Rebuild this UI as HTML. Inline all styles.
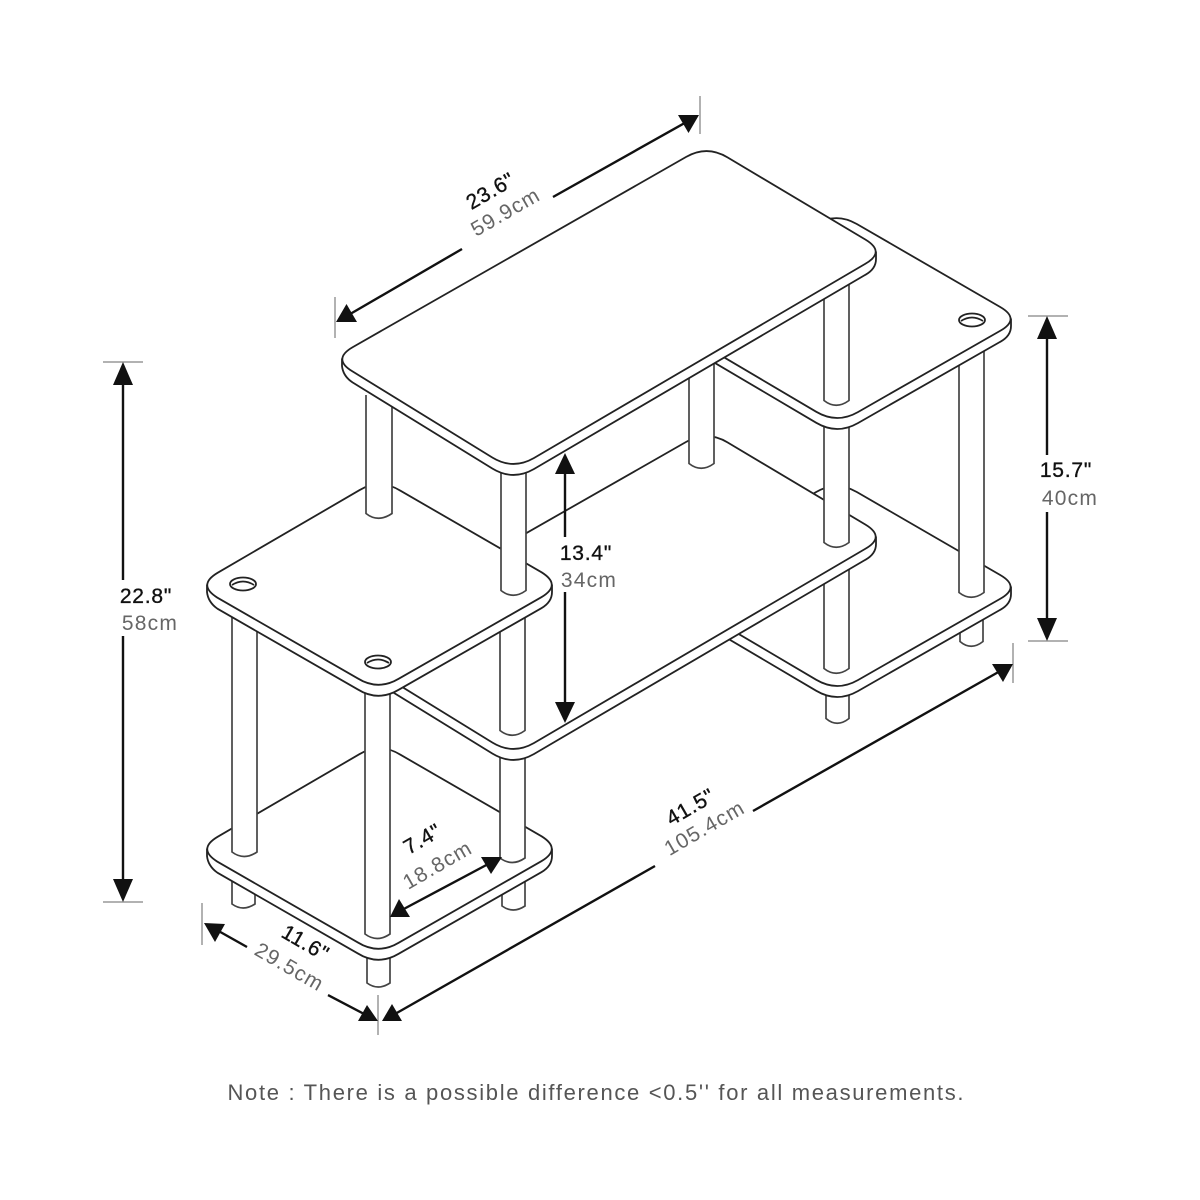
<!DOCTYPE html>
<html>
<head>
<meta charset="utf-8">
<style>
html,body{margin:0;padding:0;background:#fff;width:1200px;height:1200px;overflow:hidden}
svg{display:block}
text{font-family:"Liberation Sans",sans-serif;font-size:21px;text-anchor:middle}
.in{fill:#111;stroke:#111;stroke-width:.35;letter-spacing:.8px}
.cm{fill:#666;letter-spacing:1.2px}
.p path,.p ellipse{fill:#fff;stroke:#222;stroke-width:1.8;stroke-linejoin:round}
.c path{fill:#fff;stroke:#444;stroke-width:1.7}
.d line{stroke:#111;stroke-width:2.4}
.d .t{stroke:#999;stroke-width:1.5}
.d polygon{fill:#111}
</style>
</head>
<body>
<svg width="1200" height="1200" viewBox="0 0 1200 1200" xmlns="http://www.w3.org/2000/svg">
<defs>
<g id="topb" class="p">
<path d="M342 359V366Q343 376 352.5 382.4L492.5 468.6Q513 481 533.8 469.1L865.2 274.9Q876 269 876 259V252Z"/>
<path d="M352.8 347.1L686.2 156.9Q707 145 727.5 157.4L865.5 239.6Q886 252 865.2 263.9L533.8 458.1Q513 470 492.5 457.6L352.5 371.4Q332 359 352.8 347.1Z"/>
</g>
<g id="lefts" class="p">
<path d="M207 585V592Q208 602 217.4 608.7L357.6 689.3Q378 702 398.6 689.8L541.4 608.2Q552 602 552 592V585Z"/>
<path d="M217.6 572.8L359.4 490.2Q380 478 400.4 490.7L541.6 572.3Q562 585 541.4 597.2L398.6 678.8Q378 691 357.6 678.3L217.4 597.7Q197 585 217.6 572.8Z"/>
</g>
<g id="rights" class="p">
<path d="M1011 319V326Q1011 336 1000.1 341.9L857.9 423.1Q837 435 816.3 422.8L679.7 342.2Q669 336 669 326V319Z"/>
<path d="M679.5 306.6L815.5 224.4Q836 212 856.8 224L1000.2 307Q1021 319 1000.1 330.9L857.9 412.1Q837 424 816.3 411.8L679.7 331.2Q659 319 679.5 306.6Z"/>
</g>
</defs>

<!-- back right feet and lower right shelf -->
<g class="c">
<path d="M960 615V641.5Q971 651 983 641.5V615"/>
<path d="M826 688V718.5Q837 728 849 718.5V688"/>
</g>
<use href="#rights" y="268"/>
<g class="c">
<path d="M959 350V592.5Q971 602 984 592.5V350"/>
<path d="M824 560V668.5Q836 678 849 668.5V560"/>
</g>

<!-- lower left shelf, its feet and columns -->
<g class="c">
<path d="M232 880V904Q243 912 255 904V880"/>
<path d="M502 880V906Q513 914 525 906V880"/>
<path d="M367 950V983Q378 991 390 983V950"/>
</g>
<use href="#lefts" y="264"/>
<g class="c">
<path d="M232 610V852Q244 861 257 852V610"/>
<path d="M500 740V858Q512 867 525 858V740"/>
<path d="M365 680V934Q377 943 390 934V680"/>
</g>

<!-- middle board -->
<use href="#topb" y="285"/>
<g class="c">
<path d="M824 415V542.5Q836 552 849 542.5V415"/>
<path d="M500 590V730.5Q512 740 525 730.5V590"/>
</g>

<!-- right top shelf -->
<use href="#rights"/>
<g class="p"><ellipse cx="972" cy="320" rx="13" ry="6.5"/><path d="M961 321Q972 314 983 321" style="fill:none"/></g>
<g class="c">
<path d="M824 285V400.5Q836 410 849 400.5V285"/>
<path d="M689 350V463.5Q701 473 714 463.5V350"/>
</g>

<!-- left shelf -->
<use href="#lefts"/>
<g class="p">
<ellipse cx="243" cy="584" rx="13" ry="6.5"/><path d="M232 585Q243 578 254 585" style="fill:none"/>
<ellipse cx="378" cy="662" rx="13" ry="6.5"/><path d="M367 663Q378 656 389 663" style="fill:none"/>
</g>
<g class="c">
<path d="M366 395V513.5Q378 523 392 513.5V395"/>
<path d="M501 470V590.5Q513 600 526 590.5V470"/>
</g>

<!-- top board -->
<use href="#topb"/>

<!-- dimensions -->
<g class="d">
<line class="t" x1="103" y1="362" x2="143" y2="362"/>
<line class="t" x1="103" y1="902" x2="143" y2="902"/>
<line x1="123" y1="375" x2="123" y2="580"/>
<line x1="123" y1="636" x2="123" y2="890"/>
<polygon points="123,362 113,385 133,385"/>
<polygon points="123,902 113,879 133,879"/>

<line class="t" x1="1028" y1="316" x2="1068" y2="316"/>
<line class="t" x1="1028" y1="641" x2="1068" y2="641"/>
<line x1="1047" y1="328" x2="1047" y2="455"/>
<line x1="1047" y1="512" x2="1047" y2="630"/>
<polygon points="1047,316 1037,339 1057,339"/>
<polygon points="1047,641 1037,618 1057,618"/>

<line x1="565" y1="465" x2="565" y2="537"/>
<line x1="565" y1="592" x2="565" y2="710"/>
<polygon points="565,453 555,474 575,474"/>
<polygon points="565,723 555,702 575,702"/>

<line class="t" x1="335" y1="297" x2="335" y2="338"/>
<line class="t" x1="700" y1="96" x2="700" y2="134"/>
<line x1="345" y1="317" x2="462" y2="249"/>
<line x1="553" y1="197" x2="690" y2="120"/>
<polygon points="336,322 357,322 346.5,304"/>
<polygon points="699,115 678,115 688.5,133"/>

<line class="t" x1="1013" y1="643" x2="1013" y2="683"/>
<line class="t" x1="378" y1="995" x2="378" y2="1035"/>
<line class="t" x1="202" y1="903" x2="202" y2="945"/>
<line x1="395" y1="1014" x2="655" y2="866"/>
<line x1="753" y1="811" x2="1002" y2="670"/>
<polygon points="382,1021 402,1021 392,1004"/>
<polygon points="1013,664 992,664 1003,682"/>

<line x1="215" y1="929" x2="247" y2="947"/>
<line x1="328" y1="995" x2="368" y2="1016"/>
<polygon points="204,923 225,924 215,942"/>
<polygon points="378,1021 358,1021 367,1005"/>

<line x1="400" y1="911" x2="492" y2="862"/>
<polygon points="390,917 410,917 399,899"/>
<polygon points="502,857 481,857 491,874"/>
</g>

<!-- labels -->
<text class="in" x="146" y="603">22.8"</text>
<text class="cm" x="150" y="630">58cm</text>
<text class="in" x="1066" y="477">15.7"</text>
<text class="cm" x="1070" y="505">40cm</text>
<text class="in" x="586" y="560">13.4"</text>
<text class="cm" x="589" y="587">34cm</text>
<text class="in" transform="translate(494,197) rotate(-30)">23.6"</text>
<text class="cm" transform="translate(509,218) rotate(-30)">59.9cm</text>
<text class="in" transform="translate(694,813) rotate(-30)">41.5"</text>
<text class="cm" transform="translate(708,834) rotate(-30)">105.4cm</text>
<text class="in" transform="translate(302,949) rotate(30)">11.6"</text>
<text class="cm" transform="translate(286,973) rotate(30)">29.5cm</text>
<text class="in" transform="translate(426,845) rotate(-30)">7.4"</text>
<text class="cm" transform="translate(441,871) rotate(-30)">18.8cm</text>
<text x="595.5" y="1100" fill="#555" textLength="736" lengthAdjust="spacing" style="font-size:22px">Note : There is a possible difference &lt;0.5'' for all measurements.</text>
</svg>
</body>
</html>
